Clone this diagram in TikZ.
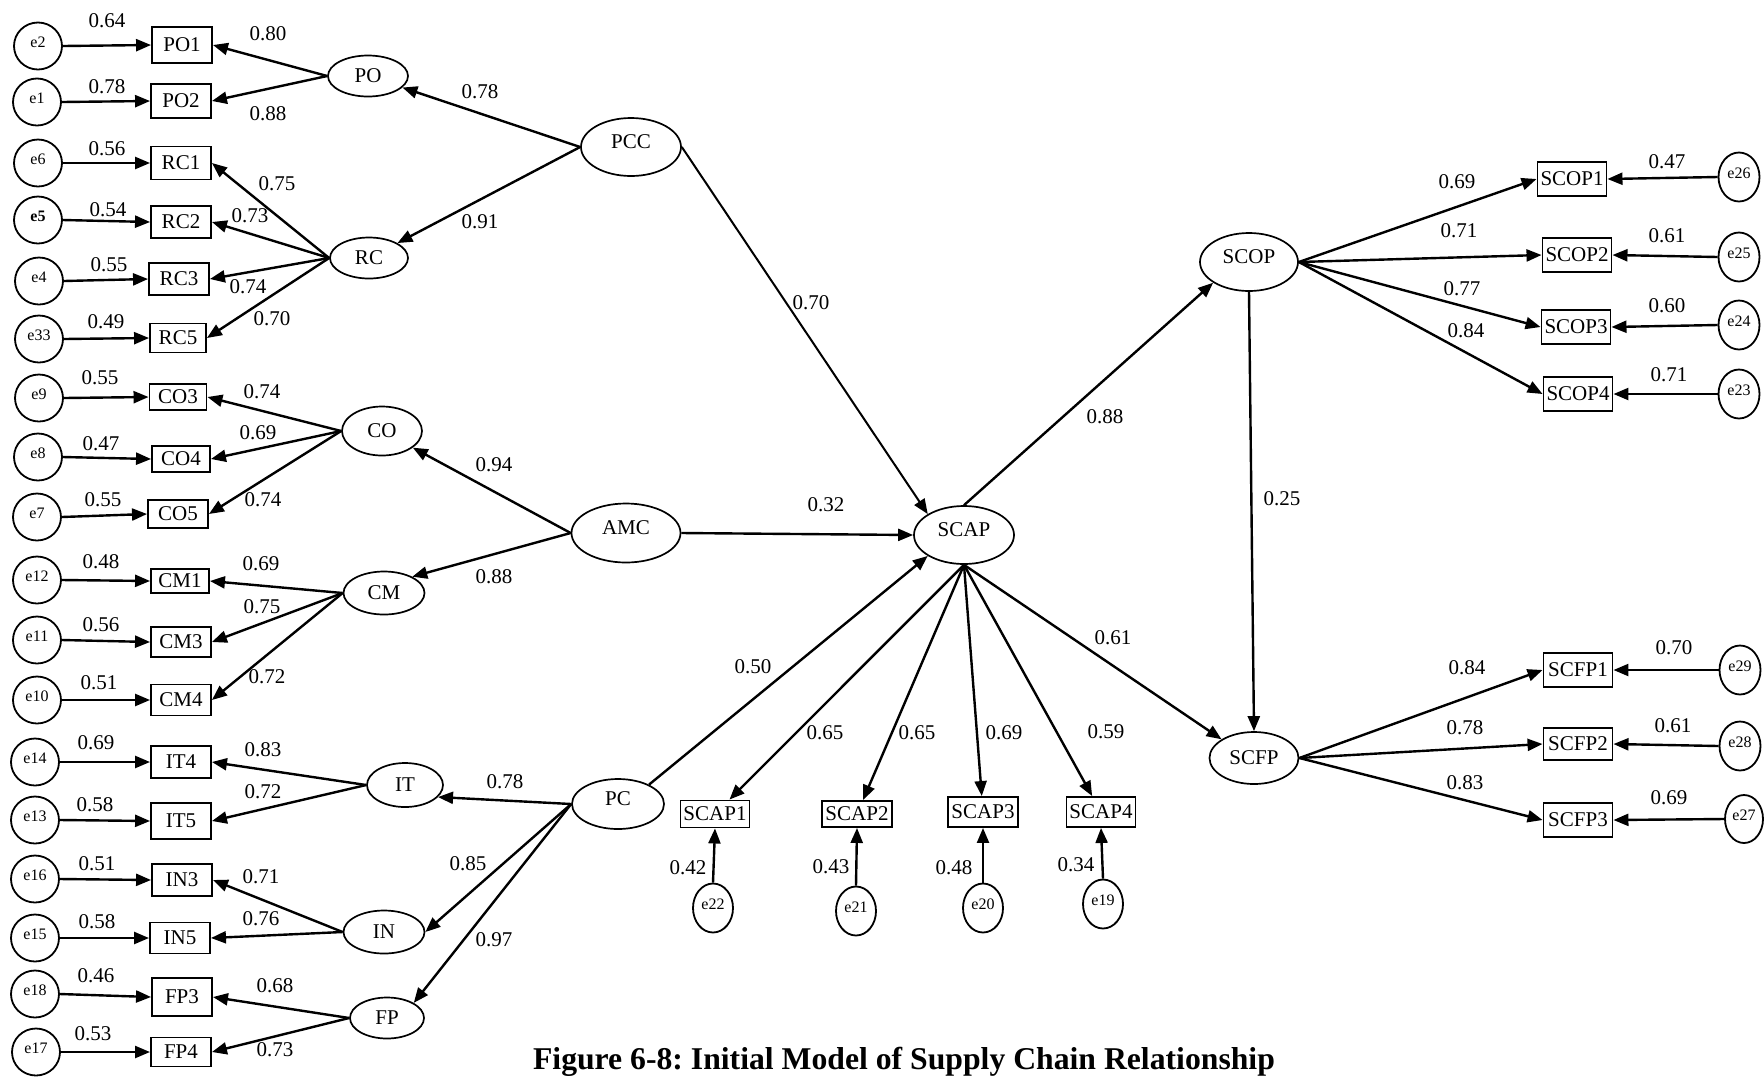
\documentclass[tikz,border=0pt]{standalone}
\usepackage{fontspec}
\setmainfont{Liberation Serif}
\usetikzlibrary{arrows.meta,shapes.geometric}
\frenchspacing
\begin{document}
\begin{tikzpicture}[x=1pt,y=-1pt,
  lat/.style={draw, ellipse, line width=1.7pt, inner sep=0pt, font=\fontsize{21}{25}\selectfont},
  biglat/.style={lat, text height=12pt, text depth=10pt},
  obs/.style={draw, rectangle, line width=1.9pt, inner sep=0pt, minimum width=60, minimum height=31, font=\fontsize{21}{25}\selectfont},
  robs/.style={obs, minimum width=69, minimum height=34},
  err/.style={draw, ellipse, line width=1.8pt, inner sep=0pt, minimum width=48, minimum height=47,
    font=\fontsize{16}{18}\selectfont, text height=10pt, text depth=7pt},
  serr/.style={err, minimum width=41, minimum height=49},
  val/.style={inner sep=0pt, font=\fontsize{21}{25}\selectfont},
  arr/.style={-{Triangle[length=15pt,width=12pt]}, line width=2.4pt},
]
\useasboundingbox (0,0) rectangle (1764,1080);

% ---------- exogenous measurement blocks (left) ----------
\node[err] (e2)  at (38,46)   {e2};
\node[err] (e1)  at (37,102)  {e1};
\node[err] (e6)  at (38,163)  {e6};
\node[err] (e5)  at (38,220)  {\bfseries e5};
\node[err] (e4)  at (39,281)  {e4};
\node[err] (e33) at (39,339)  {e33};
\node[err] (e9)  at (39,398)  {e9};
\node[err] (e8)  at (38,457)  {e8};
\node[err] (e7)  at (37,517)  {e7};
\node[err] (e12) at (37,580)  {e12};
\node[err] (e11) at (37,640)  {e11};
\node[err] (e10) at (37,700)  {e10};
\node[err] (e14) at (35,762)  {e14};
\node[err] (e13) at (35,820)  {e13};
\node[err] (e16) at (35,879)  {e16};
\node[err] (e15) at (35,938)  {e15};
\node[err] (e18) at (35,994)  {e18};
\node[err] (e17) at (36,1052) {e17};

\node[obs, minimum height=36] (PO1) at (182,45)   {PO1};
\node[obs, minimum height=34] (PO2) at (181,101)  {PO2};
\node[obs, minimum height=33] (RC1) at (181,163)  {RC1};
\node[obs, minimum height=32] (RC2) at (181,222)  {RC2};
\node[obs, minimum height=32] (RC3) at (179,279)  {RC3};
\node[obs, minimum width=56, minimum height=29] (RC5) at (178,338) {RC5};
\node[obs, minimum width=57, minimum height=26] (CO3) at (178,397) {CO3};
\node[obs, minimum width=58, minimum height=26] (CO4) at (181,459) {CO4};
\node[obs, minimum height=28] (CO5) at (178,514)  {CO5};
\node[obs, minimum width=58, minimum height=24] (CM1) at (180,581) {CM1};
\node[obs, minimum height=30] (CM3) at (181,642)  {CM3};
\node[obs, minimum height=31] (CM4) at (181,700)  {CM4};
\node[obs, minimum height=32] (IT4) at (181,762)  {IT4};
\node[obs, minimum height=36] (IT5) at (181,821)  {IT5};
\node[obs, minimum height=32] (IN3) at (182,880)  {IN3};
\node[obs, minimum height=31] (IN5) at (180,938)  {IN5};
\node[obs, minimum height=38] (FP3) at (182,997)  {FP3};
\node[obs, minimum height=29] (FP4) at (181,1052) {FP4};

\node[lat, minimum width=80, minimum height=41] (PO) at (368,76)   {PO};
\node[lat, minimum width=78, minimum height=41] (RC) at (369,258)  {RC};
\node[lat, minimum width=80, minimum height=49] (CO) at (382,431)  {CO};
\node[lat, minimum width=81, minimum height=43] (CM) at (384,593)  {CM};
\node[lat, minimum width=76, minimum height=44] (IT) at (405,785)  {IT};
\node[lat, minimum width=81, minimum height=43] (IN) at (384,932)  {IN};
\node[lat, minimum width=74, minimum height=41] (FP) at (387,1018) {FP};

% ---------- second-order and structural constructs ----------
\node[biglat, minimum width=100, minimum height=58] (PCC)  at (631,147)  {PCC};
\node[biglat, minimum width=109, minimum height=59] (AMC)  at (626,533)  {AMC};
\node[biglat, minimum width=92,  minimum height=50] (PC)   at (618,804)  {PC};
\node[biglat, minimum width=100, minimum height=58] (SCAP) at (964,535)  {SCAP};
\node[biglat, minimum width=98,  minimum height=58] (SCOP) at (1249,262) {SCOP};
\node[lat, minimum width=89,  minimum height=52] (SCFP) at (1254,758) {SCFP};

% ---------- SCAP indicators ----------
\node[obs, minimum width=69, minimum height=27] (SCAP1) at (715,814)  {SCAP1};
\node[obs, minimum width=70, minimum height=26] (SCAP2) at (857,814)  {SCAP2};
\node[obs, minimum width=70, minimum height=30] (SCAP3) at (983,812)  {SCAP3};
\node[obs, minimum width=69, minimum height=30] (SCAP4) at (1101,812) {SCAP4};
\node[err, minimum width=40, minimum height=49] (e22) at (713,908)  {e22};
\node[err, minimum width=40, minimum height=49] (e21) at (856,911)  {e21};
\node[err, minimum width=40, minimum height=49] (e20) at (983,908)  {e20};
\node[err, minimum width=40, minimum height=49] (e19) at (1103,904) {e19};

% ---------- SCOP and SCFP indicators ----------
\node[robs] (SCOP1) at (1572,179) {SCOP1};
\node[robs] (SCOP2) at (1577,255) {SCOP2};
\node[robs] (SCOP3) at (1576,327) {SCOP3};
\node[robs] (SCOP4) at (1578,394) {SCOP4};
\node[serr] (e26) at (1739,177) {e26};
\node[serr] (e25) at (1739,257) {e25};
\node[serr] (e24) at (1739,325) {e24};
\node[serr] (e23) at (1739,394) {e23};

\node[robs] (SCFP1) at (1578,670) {SCFP1};
\node[robs, minimum height=32] (SCFP2) at (1578,744) {SCFP2};
\node[robs] (SCFP3) at (1578,820) {SCFP3};
\node[serr] (e29) at (1740,670) {e29};
\node[serr] (e28) at (1740,746) {e28};
\node[serr, minimum width=38, minimum height=48] (e27) at (1744,819) {e27};

% ---------- error paths ----------
\foreach \e/\b in {e2/PO1,e1/PO2,e6/RC1,e5/RC2,e4/RC3,e33/RC5,e9/CO3,e8/CO4,e7/CO5,
                   e12/CM1,e11/CM3,e10/CM4,e14/IT4,e13/IT5,e16/IN3,e15/IN5,e18/FP3,e17/FP4}
  \draw[arr] (\e.east) -- (\b.west);
\foreach \e/\b in {e26/SCOP1,e25/SCOP2,e24/SCOP3,e23/SCOP4,e29/SCFP1,e28/SCFP2,e27/SCFP3}
  \draw[arr] (\e.west) -- (\b.east);
\foreach \e/\b in {e22/SCAP1,e21/SCAP2,e20/SCAP3,e19/SCAP4}
  \draw[arr] (\e.north) -- (\b.south);

% ---------- loadings ----------
\foreach \f/\b in {PO/PO1,PO/PO2,RC/RC1,RC/RC2,RC/RC3,RC/RC5,CO/CO3,CO/CO4,CO/CO5,
                   CM/CM1,CM/CM3,CM/CM4,IT/IT4,IT/IT5,IN/IN3,IN/IN5,FP/FP3,FP/FP4}
  \draw[arr] (\f.west) -- (\b.east);
\foreach \b in {SCAP1,SCAP2,SCAP3,SCAP4}
  \draw[arr] (SCAP.south) -- (\b);
\foreach \b in {SCOP1,SCOP2,SCOP3,SCOP4}
  \draw[arr] (SCOP.east) -- (\b.west);
\foreach \b in {SCFP1,SCFP2,SCFP3}
  \draw[arr] (SCFP.east) -- (\b.west);

% ---------- structural paths ----------
\draw[arr] (PCC.west) -- (PO);
\draw[arr] (PCC.west) -- (RC);
\draw[arr, line width=2pt] (PCC.east) -- (SCAP.150);
\draw[arr] (AMC.west) -- (CO);
\draw[arr] (AMC.west) -- (CM.30);
\draw[arr] (AMC.east) -- (SCAP.west);
\draw[arr] (PC.32) -- (SCAP.-150);
\draw[arr] (PC.west) -- (IT.-20);
\draw[arr] (PC.west) -- (IN.east);
\draw[arr] (PC.west) -- (FP.north east);
\draw[arr] (SCAP.north) -- (SCOP.-150);
\draw[arr] (SCAP.south) -- (SCFP.150);
\draw[arr] (SCOP.south) -- (SCFP.north);

% ---------- coefficients: error paths ----------
\node[val] (v1)  at (107,21)   {0.64};
\node[val] (v2)  at (107,87)   {0.78};
\node[val] (v3)  at (107,149)  {0.56};
\node[val] (v4)  at (108,210)  {0.54};
\node[val] (v5)  at (109,265)  {0.55};
\node[val] (v6)  at (106,322)  {0.49};
\node[val] (v7)  at (100,378)  {0.55};
\node[val] (v8)  at (101,444)  {0.47};
\node[val] (v9)  at (103,500)  {0.55};
\node[val] (v10) at (101,562)  {0.48};
\node[val] (v11) at (101,625)  {0.56};
\node[val] (v12) at (99,683)   {0.51};
\node[val] (v13) at (96,743)   {0.69};
\node[val] (v14) at (95,805)   {0.58};
\node[val] (v15) at (97,864)   {0.51};
\node[val] (v16) at (97,922)   {0.58};
\node[val] (v17) at (96,976)   {0.46};
\node[val] (v18) at (93,1034)  {0.53};

% ---------- coefficients: loadings ----------
\node[val] (w1)  at (268,34)   {0.80};
\node[val] (w2)  at (268,114)  {0.88};
\node[val] (w3)  at (277,184)  {0.75};
\node[val] (w4)  at (250,216)  {0.73};
\node[val] (w5)  at (248,287)  {0.74};
\node[val] (w6)  at (272,319)  {0.70};
\node[val] (w7)  at (262,392)  {0.74};
\node[val] (w8)  at (258,433)  {0.69};
\node[val] (w9)  at (263,500)  {0.74};
\node[val] (w10) at (261,564)  {0.69};
\node[val] (w11) at (262,607)  {0.75};
\node[val] (w12) at (267,677)  {0.72};
\node[val] (w13) at (263,750)  {0.83};
\node[val] (w14) at (263,792)  {0.72};
\node[val] (w15) at (261,877)  {0.71};
\node[val] (w16) at (261,919)  {0.76};
\node[val] (w17) at (275,986)  {0.68};
\node[val] (w18) at (275,1050) {0.73};

% ---------- coefficients: structural part ----------
\node[val] (s1)  at (480,92)   {0.78};
\node[val] (s2)  at (480,222)  {0.91};
\node[val] (s3)  at (811,303)  {0.70};
\node[val] (s4)  at (494,465)  {0.94};
\node[val] (s5)  at (494,577)  {0.88};
\node[val] (s6)  at (826,505)  {0.32};
\node[val] (s7)  at (753,667)  {0.50};
\node[val] (s8)  at (505,782)  {0.78};
\node[val] (s9)  at (468,864)  {0.85};
\node[val] (s10) at (494,940)  {0.97};
\node[val] (s11) at (1105,417) {0.88};
\node[val] (s12) at (1113,638) {0.61};
\node[val] (s13) at (1282,499) {0.25};

% ---------- coefficients: SCAP block ----------
\node[val] (a1) at (825,733)  {0.65};
\node[val] (a2) at (917,733)  {0.65};
\node[val] (a3) at (1004,733) {0.69};
\node[val] (a4) at (1106,732) {0.59};
\node[val] (a5) at (688,868)  {0.42};
\node[val] (a6) at (831,867)  {0.43};
\node[val] (a7) at (954,868)  {0.48};
\node[val] (a8) at (1076,865) {0.34};

% ---------- coefficients: SCOP and SCFP blocks ----------
\node[val] (o1) at (1457,182) {0.69};
\node[val] (o2) at (1459,231) {0.71};
\node[val] (o3) at (1462,289) {0.77};
\node[val] (o4) at (1466,331) {0.84};
\node[val] (o5) at (1667,162) {0.47};
\node[val] (o6) at (1667,236) {0.61};
\node[val] (o7) at (1667,306) {0.60};
\node[val] (o8) at (1669,375) {0.71};
\node[val] (f1) at (1467,668) {0.84};
\node[val] (f2) at (1465,728) {0.78};
\node[val] (f3) at (1465,783) {0.83};
\node[val] (f4) at (1674,648) {0.70};
\node[val] (f5) at (1673,726) {0.61};
\node[val] (f6) at (1669,798) {0.69};

% ---------- caption ----------
\node[anchor=base, inner sep=0pt, font=\fontsize{31.7}{36}\selectfont\bfseries] (cap) at (904,1069)
  {Figure 6-8: Initial Model of Supply Chain Relationship};
\end{tikzpicture}
\end{document}
